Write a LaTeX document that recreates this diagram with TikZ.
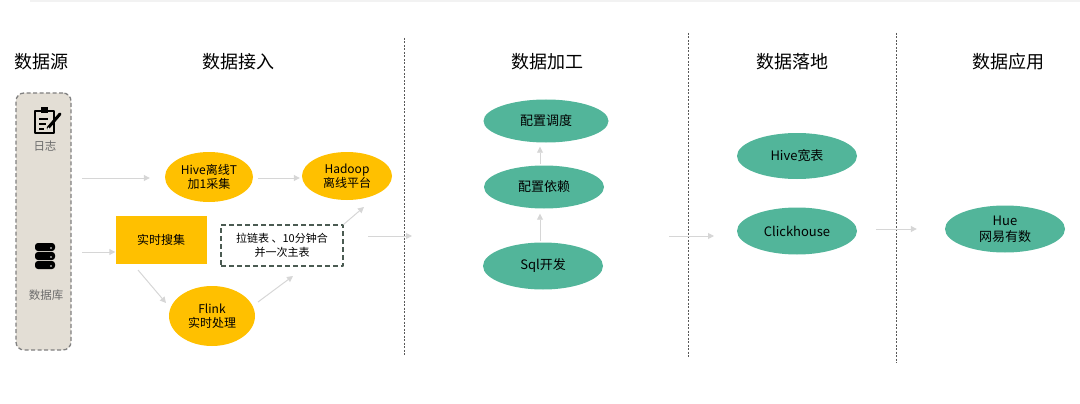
\documentclass[tikz,border=0pt]{standalone}
\usepackage{fontspec}
\setmainfont{Noto Sans CJK SC}
\usetikzlibrary{shapes.geometric,arrows.meta}
\definecolor{vang}{HTML}{FFC000}
\definecolor{xanh}{HTML}{52B59A}
\definecolor{muiten}{HTML}{D6D6D6}
\definecolor{nen}{HTML}{E3DED5}
\definecolor{vien}{HTML}{4B5B52}
\tikzset{
	tieude/.style={font=\fontsize{18}{20}\selectfont},
	vangtron/.style={ellipse, fill=vang, inner sep=0pt, align=center, font=\fontsize{12}{14}\selectfont},
	xanhtron/.style={ellipse, fill=xanh, inner sep=0pt, minimum width=120, minimum height=45, align=center, font=\fontsize{13}{16}\selectfont},
	chuxam/.style={text=gray!85!black, font=\fontsize{11.5}{13}\selectfont},
	noi/.style={->, muiten, line width=1pt},
	cot/.style={gray!70!black, line width=.6pt, dash pattern=on 2pt off 1.5pt}
}
\begin{document}
\begin{tikzpicture}[x=1pt, y=-1pt, line join=round, >={Triangle[length=6pt,width=6pt]}]
	\useasboundingbox (0,0) rectangle (1080,404);
	\draw[gray!10, line width=2pt] (30,1)--(1080,1);
	% các cột
	\draw[cot] (404,38)--(404,356);
	\draw[cot] (688,33)--(688,357);
	\draw[cot] (896,33)--(896,363);
	\path 
	(42,62) node[tieude] (tNguon) {数据源}
	(238,62) node[tieude] (tNhap) {数据接入}
	(547,62) node[tieude] (tXuLy) {数据加工}
	(792,62) node[tieude] (tLuu) {数据落地}
	(1008,62) node[tieude] (tDung) {数据应用};
	% nguồn dữ liệu
	\node[draw=gray, fill=nen, dashed, dash pattern=on 4pt off 2.5pt, line width=1.3pt, rounded corners=8pt, minimum width=55, minimum height=257, inner sep=0pt] (nguon) at (43.5,221.5) {};
	\draw[line width=1.7pt] (35,111) rectangle (54,133);
	\fill (41,107) rectangle (48,113);
	\draw[line width=1.4pt] (39,119)--(48,119) (39,124)--(46,124) (39,129)--(44,129);
	\draw[line width=3pt, line cap=round] (48,128)--(60,114);
	\fill[white] (48.5,128.5) circle (1.2);
	\node[chuxam] (rizhi) at (45,146) {日志};
	\foreach \i in {0,1,2}{
		\fill[rounded corners=3pt] (35,{243+9*\i}) rectangle (55,{251+9*\i});
		\fill[white] (51,{248+9*\i}) circle (.9);
	}
	\node[chuxam] (ku) at (46,295) {数据库};
	% thu thập
	\path 
	(209,177) node[vangtron, minimum width=88, minimum height=50] (hive) {Hive离线T\\加1采集}
	(347,176) node[vangtron, minimum width=90, minimum height=48] (hadoop) {Hadoop\\离线平台}
	(212,316) node[vangtron, minimum width=86, minimum height=60] (flink) {Flink\\实时处理};
	\node[fill=vang, minimum width=91, minimum height=48, inner sep=0pt, font=\fontsize{12}{14}\selectfont] (ssj) at (161,240) {实时搜集};
	\node[draw=vien, fill=white, dashed, dash pattern=on 5pt off 3pt, line width=1.2pt, minimum width=122, minimum height=41, inner sep=0pt, align=center, font=\fontsize{11}{14}\selectfont] (hop) at (282,245.5) {拉链表 、10分钟合\\并一次主表};
	\coordinate (r1) at (82,178);
	\coordinate (r2) at (82,252);
	\coordinate (r3) at (368,236);
	\coordinate (r4) at (412,236);
	\draw[noi, shorten >=15pt] (r1)--(hive.west|-r1);
	\draw[noi, shorten <=5pt, shorten >=2pt] (hive.east|-r1)--(hadoop.west|-r1);
	\draw[noi] (r2)--(ssj.west|-r2);
	\draw[noi] ([xshift=-23pt,yshift=-30pt]ssj.center)--([xshift=-46pt,yshift=13pt]flink.center);
	\draw[noi] ([xshift=46pt,yshift=14pt]flink.center)--([xshift=11pt,yshift=-30.5pt]hop.center);
	\draw[noi] (hop.north east)--([xshift=17pt,yshift=-31pt]hadoop.center);
	\draw[noi] (r3)--(r4);
	% xử lý
	\path 
	(546,121) node[xanhtron, minimum width=125, minimum height=43] (diaodu) {配置调度}
	(544,187) node[xanhtron, minimum height=43] (yilai) {配置依赖}
	(543,266) node[xanhtron, minimum height=47] (sql) {Sql开发};
	\draw[noi, line width=.8pt, shorten <=1pt, shorten >=4pt] ([xshift=-4pt]yilai.north)--([xshift=-4pt]yilai.north|-diaodu.south);
	\draw[noi, line width=.8pt, shorten <=1pt, shorten >=5pt] ([xshift=-3pt]sql.north)--([xshift=-3pt]sql.north|-yilai.south);
	% lưu trữ
	\path 
	(797,156) node[xanhtron, minimum height=46] (kuanbiao) {Hive宽表}
	(797,231) node[xanhtron, minimum height=47] (ck) {Clickhouse}
	(1005,229) node[xanhtron, minimum height=47] (hue) {Hue\\网易有数};
	\coordinate (r5) at (669,236);
	\coordinate (r6) at (714,236);
	\draw[noi] (r5)--(r6);
	\draw[noi, shorten <=19pt, shorten >=28pt] (ck.east|-hue)--(hue.west);
\end{tikzpicture}
\end{document}
